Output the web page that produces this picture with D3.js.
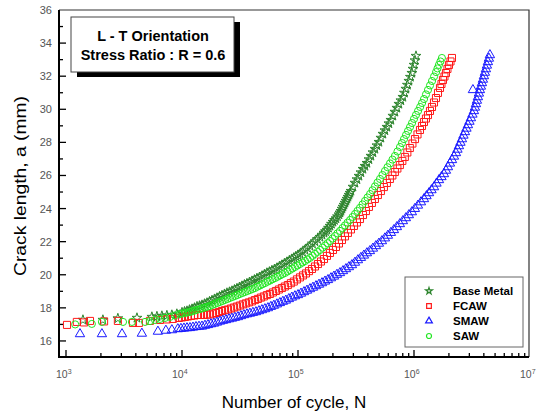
<!DOCTYPE html>
<html>
<head>
<meta charset="utf-8">
<script src="https://cdn.jsdelivr.net/npm/d3@7/dist/d3.min.js"></script>
<style>
  body { margin: 0; background: #fff; }
  svg { display: block; font-family: "Liberation Sans", Arial, sans-serif; }
</style>
</head>
<body>
<div id="chart"></div>
<script>
// Data: [number of cycles N, crack length a (mm)]
const baseMetal = [
  [1400,17.27],[2080,17.27],[2800,17.36],[4090,17.39],[5500,17.45],[6080,17.48],[6710,17.51],[7410,17.54],
  [8180,17.57],[9030,17.63],[10000,17.72],[10510,17.77],[11040,17.81],[11600,17.88],[12190,17.93],[12810,18.00],
  [13470,18.08],[14150,18.12],[14870,18.17],[15630,18.24],[16420,18.30],[17250,18.38],[18130,18.45],[19050,18.53],
  [20020,18.60],[21040,18.68],[22110,18.75],[23230,18.83],[24410,18.90],[25650,18.96],[26950,19.02],[28320,19.10],
  [29760,19.17],[31270,19.25],[32860,19.32],[34530,19.40],[36290,19.47],[38130,19.55],[40070,19.62],[42100,19.70],
  [44240,19.78],[46490,19.85],[48850,19.93],[51330,20.02],[53940,20.11],[56680,20.18],[59560,20.26],[62590,20.33],
  [65770,20.41],[69110,20.50],[72620,20.59],[76310,20.68],[80190,20.77],[84260,20.86],[88540,20.95],[92120,21.03],
  [95850,21.11],[99840,21.18],[104000,21.26],[109300,21.38],[114800,21.50],[120700,21.62],[126800,21.74],[133200,21.88],
  [140000,22.01],[147200,22.15],[154700,22.28],[161000,22.41],[167500,22.53],[172500,22.62],[177700,22.71],[183100,22.83],
  [188600,22.95],[194300,23.07],[200200,23.19],[206300,23.30],[212500,23.40],[218900,23.52],[225500,23.64],[230000,23.75],
  [234600,23.85],[239300,23.98],[244100,24.10],[249000,24.22],[254000,24.34],[259000,24.46],[264200,24.58],[269500,24.70],
  [274900,24.82],[280400,24.94],[286000,25.06],[297600,25.31],[309600,25.55],[322200,25.76],[335200,25.97],[348800,26.18],
  [362900,26.39],[377600,26.57],[392800,26.75],[408700,26.97],[425200,27.18],[442400,27.39],[460300,27.60],[478900,27.81],
  [498300,28.02],[518400,28.27],[539400,28.51],[561200,28.72],[583900,28.93],[607500,29.14],[632000,29.35],[657600,29.60],
  [684300,29.84],[711900,30.08],[740700,30.32],[770700,30.53],[801900,30.74],[826100,30.99],[851000,31.23],[876700,31.47],
  [903100,31.71],[930400,31.95],[958500,32.19],[979000,32.44],[1000000,32.68],[1020000,32.95],[1040000,33.22]
];

const fcaw = [
  [1020,16.97],[1240,17.15],[1430,17.12],[1610,17.21],[2130,17.18],[2800,17.21],[3780,17.09],[4250,17.09],
  [5290,17.21],[6450,17.27],[7410,17.30],[8340,17.33],[9400,17.39],[9990,17.42],[10610,17.45],[11260,17.48],
  [11950,17.51],[12810,17.54],[13730,17.57],[14570,17.57],[15470,17.57],[16420,17.59],[17420,17.60],[18490,17.65],
  [19620,17.69],[20830,17.75],[22110,17.81],[23460,17.86],[24900,17.90],[26420,17.96],[28040,18.02],[29750,18.08],
  [31570,18.14],[33510,18.21],[35570,18.27],[37750,18.33],[40070,18.39],[42530,18.47],[45130,18.54],[47890,18.62],
  [50820,18.69],[53940,18.77],[57250,18.84],[60770,18.93],[64500,19.02],[68440,19.11],[72620,19.20],[77070,19.29],
  [81800,19.38],[86800,19.49],[92100,19.59],[97900,19.72],[104000,19.84],[110400,19.96],[117200,20.08],[124400,20.22],
  [132000,20.35],[140100,20.50],[148700,20.65],[157800,20.80],[167500,20.95],[177700,21.14],[188600,21.32],[200200,21.50],
  [212500,21.68],[225500,21.89],[239300,22.10],[254000,22.32],[269500,22.53],[286000,22.74],[303500,22.95],[322100,23.16],
  [341900,23.37],[362900,23.61],[385100,23.85],[408700,24.10],[433700,24.34],[460300,24.58],[488500,24.82],[518400,25.06],
  [550200,25.30],[583900,25.55],[619600,25.79],[651200,26.00],[684300,26.21],[719000,26.42],[755500,26.63],[793800,26.88],
  [834000,27.12],[876400,27.39],[921000,27.66],[969300,27.93],[1020000,28.20],[1072000,28.48],[1126000,28.75],[1172000,28.99],
  [1219000,29.23],[1268000,29.44],[1320000,29.65],[1373000,29.90],[1429000,30.14],[1487000,30.41],[1547000,30.68],[1610000,30.99],
  [1675000,31.29],[1725000,31.53],[1777000,31.77],[1831000,31.98],[1886000,32.19],[1943000,32.44],[2002000,32.68],[2063000,32.89],
  [2125000,33.10]
];

const smaw = [
  [1320,16.42],[2040,16.42],[3040,16.42],[4510,16.45],[6200,16.57],[7260,16.63],[8180,16.66],[9210,16.72],
  [9790,16.74],[10400,16.76],[11040,16.78],[11720,16.79],[12440,16.82],[13200,16.85],[14010,16.87],[14870,16.88],
  [15780,16.93],[16750,16.97],[17770,17.02],[18860,17.06],[20020,17.12],[21250,17.18],[22550,17.23],[23930,17.27],
  [25400,17.32],[26950,17.36],[28600,17.41],[30350,17.45],[32210,17.51],[34190,17.57],[36290,17.62],[38510,17.66],
  [40870,17.71],[43370,17.75],[46030,17.81],[48850,17.87],[51840,17.93],[55020,17.99],[58390,18.07],[61960,18.14],
  [65760,18.22],[69800,18.30],[74070,18.38],[78600,18.45],[83420,18.54],[88540,18.63],[94100,18.71],[100000,18.78],
  [106100,18.87],[112600,18.96],[119500,19.05],[126800,19.14],[134600,19.23],[142900,19.32],[151700,19.41],[161000,19.50],
  [170900,19.60],[181300,19.69],[192400,19.80],[204200,19.90],[216700,20.01],[230000,20.11],[244100,20.23],[259000,20.35],
  [274900,20.47],[291800,20.59],[309700,20.74],[328600,20.89],[348700,21.03],[370000,21.17],[392700,21.31],[416800,21.44],
  [442400,21.59],[469500,21.74],[498400,21.89],[529000,22.04],[561300,22.21],[595600,22.37],[632200,22.54],[671000,22.71],
  [712000,22.89],[755500,23.07],[801800,23.25],[851000,23.43],[903100,23.61],[958500,23.79],[1018000,23.99],[1082000,24.19],
  [1148000,24.39],[1219000,24.58],[1281000,24.76],[1347000,24.94],[1415000,25.12],[1487000,25.30],[1563000,25.52],[1642000,25.73],
  [1725000,25.91],[1813000,26.09],[1886000,26.30],[1962000,26.51],[2042000,26.73],[2125000,26.94],[2211000,27.15],[2300000,27.36],
  [2370000,27.57],[2441000,27.78],[2514000,27.99],[2590000,28.20],[2668000,28.42],[2749000,28.63],[2832000,28.84],[2918000,29.05],
  [3006000,29.26],[3096000,29.47],[3190000,29.69],[3286000,29.90],[3352000,30.11],[3419000,30.32],[3487000,30.53],[3557000,30.74],
  [3628000,30.96],[3700000,31.17],[3775000,31.38],[3851000,31.59],[3928000,31.80],[4007000,32.01],[4087000,32.22],[4168000,32.43],
  [4252000,32.65],[4337000,32.86],[4424000,33.07],[4513000,33.28],[3220000,31.17]
];

const saw = [
  [1200,17.00],[1670,17.03],[2040,17.15],[3100,17.15],[3700,17.15],[4800,17.15],[5300,17.20],[5850,17.27],
  [6460,17.33],[7130,17.39],[7880,17.45],[8700,17.54],[9600,17.63],[10090,17.66],[10600,17.69],[11140,17.72],
  [11700,17.75],[12290,17.80],[12900,17.84],[13580,17.89],[14300,17.93],[15030,17.98],[15800,18.02],[16580,18.07],
  [17400,18.11],[18280,18.18],[19200,18.24],[20220,18.30],[21300,18.36],[22370,18.42],[23500,18.48],[24670,18.54],
  [25900,18.60],[27260,18.66],[28700,18.72],[30120,18.78],[31600,18.84],[33210,18.90],[34900,18.96],[36700,19.02],
  [38600,19.08],[40550,19.14],[42600,19.20],[44750,19.28],[47000,19.35],[49440,19.43],[52000,19.50],[54630,19.58],
  [57400,19.65],[60330,19.73],[63400,19.80],[66620,19.88],[70000,19.96],[73560,20.04],[77300,20.11],[81200,20.20],
  [85300,20.29],[89640,20.38],[94200,20.47],[98980,20.56],[104000,20.65],[109400,20.74],[115000,20.83],[120900,20.93],
  [127000,21.02],[133400,21.14],[140000,21.26],[147300,21.38],[155000,21.50],[162800,21.64],[171000,21.77],[179800,21.91],
  [189000,22.04],[198300,22.19],[208000,22.34],[218700,22.50],[230000,22.65],[241700,22.82],[254000,22.98],[267200,23.15],
  [281000,23.31],[295100,23.49],[310000,23.67],[325600,23.86],[342000,24.04],[359600,24.25],[378000,24.46],[397500,24.67],
  [418000,24.88],[438900,25.11],[461000,25.34],[484400,25.57],[509000,25.79],[534800,26.03],[562000,26.27],[590800,26.50],
  [621000,26.73],[652200,26.96],[685000,27.18],[720100,27.45],[757000,27.72],[787900,27.96],[820000,28.20],[853600,28.45],
  [888000,28.69],[924300,28.93],[962000,29.17],[1000000,29.42],[1040000,29.66],[1084000,29.90],[1130000,30.14],[1174000,30.38],
  [1220000,30.62],[1269000,30.90],[1320000,31.17],[1374000,31.44],[1430000,31.71],[1489000,31.98],[1550000,32.25],[1594000,32.47],
  [1640000,32.68],[1689000,32.89],[1740000,33.10]
];

const seriesNames = ["Base Metal", "FCAW", "SMAW", "SAW"];
const seriesColors = ["#2e852e", "#ff1a1a", "#1a1aff", "#22e622"];
const yTickLabels = [16, 18, 20, 22, 24, 26, 28, 30, 32, 34, 36];
const xTickExponents = [3, 4, 5, 6, 7];
const annotation = ["L - T Orientation", "Stress Ratio : R = 0.6"];

// Plot frame
const width = 544, height = 415;
const frame = { left: 59, right: 529, top: 10, bottom: 357 };

const x = d3.scaleLog()
  .domain([1e3, 1e7])
  .range([66, 530]);

const y = d3.scaleLinear()
  .domain([15, 36])
  .range([357.5, 10]);

const svg = d3.select("#chart")
  .append("svg")
  .attr("width", width)
  .attr("height", height);

svg.append("rect")
  .attr("width", width)
  .attr("height", height)
  .attr("fill", "#fff");

// Symbols for each series
const symbols = [
  d3.symbol().type(d3.symbolStar).size(30),
  d3.symbol().type(d3.symbolSquare).size(50),
  d3.symbol().type(d3.symbolTriangle).size(38),
  d3.symbol().type(d3.symbolCircle).size(40)
];
const legendSymbols = [
  d3.symbol().type(d3.symbolStar).size(14),
  d3.symbol().type(d3.symbolSquare).size(22),
  d3.symbol().type(d3.symbolTriangle).size(20),
  d3.symbol().type(d3.symbolCircle).size(20)
];

const allSeries = [baseMetal, fcaw, smaw, saw];

allSeries.forEach((series, i) => {
  svg.append("g")
    .selectAll("path")
    .data(series)
    .join("path")
    .attr("transform", d => `translate(${x(d[0])},${y(d[1])})`)
    .attr("d", symbols[i])
    .attr("fill", "none")
    .attr("stroke", seriesColors[i])
    .attr("stroke-width", 1);
});

// Top and right border
svg.append("path")
  .attr("d", `M${frame.left},${frame.top}H${frame.right}V${frame.bottom}`)
  .attr("fill", "none")
  .attr("stroke", "#333")
  .attr("stroke-width", 1.2);

// Y ticks (inward), majors every 2, minors every 1
const yTicks = d3.range(16, 36, 1);
svg.append("g")
  .selectAll("line")
  .data(yTicks)
  .join("line")
  .attr("x1", frame.left)
  .attr("x2", d => frame.left + (d % 2 === 0 ? 7 : 4))
  .attr("y1", d => y(d))
  .attr("y2", d => y(d))
  .attr("stroke", "#000")
  .attr("stroke-width", 1.3);

svg.append("g")
  .selectAll("text")
  .data(yTickLabels)
  .join("text")
  .attr("x", 52)
  .attr("y", d => y(d))
  .attr("dy", "0.36em")
  .attr("text-anchor", "end")
  .attr("fill", "#555")
  .style("font-size", "11px")
  .text(d => d);

// X ticks (inward), decades and minor 2..9
const xTicks = x.ticks().filter(d => d < 1e7);
svg.append("g")
  .selectAll("line")
  .data(xTicks)
  .join("line")
  .attr("x1", d => x(d))
  .attr("x2", d => x(d))
  .attr("y1", frame.bottom)
  .attr("y2", d => {
    const isDecade = Math.abs(Math.log10(d) - Math.round(Math.log10(d))) < 1e-6;
    return frame.bottom - (isDecade ? 7 : 4);
  })
  .attr("stroke", "#000")
  .attr("stroke-width", 1.3);

const xLabels = svg.append("g")
  .selectAll("text")
  .data(xTickExponents)
  .join("text")
  .attr("x", d => x(Math.pow(10, d)) - 10)
  .attr("y", 378)
  .attr("fill", "#555")
  .style("font-size", "10.5px");
xLabels.append("tspan").text("10");
xLabels.append("tspan")
  .attr("dy", -4)
  .style("font-size", "7px")
  .text(d => d);

// Left and bottom axis lines
svg.append("path")
  .attr("d", `M${frame.left},${frame.top}V${frame.bottom}H${frame.right}`)
  .attr("fill", "none")
  .attr("stroke", "#000")
  .attr("stroke-width", 2);

// Axis titles
svg.append("text")
  .attr("x", 294)
  .attr("y", 408)
  .attr("text-anchor", "middle")
  .style("font-size", "17px")
  .text("Number of cycle, N");

svg.append("text")
  .attr("transform", "translate(26,186) rotate(-90)")
  .attr("text-anchor", "middle")
  .attr("textLength", 180)
  .attr("lengthAdjust", "spacingAndGlyphs")
  .style("font-size", "17px")
  .text("Crack length, a (mm)");

// Annotation box with shadow
svg.append("rect")
  .attr("x", 77).attr("y", 22)
  .attr("width", 163).attr("height", 55)
  .attr("fill", "#000");
svg.append("rect")
  .attr("x", 71).attr("y", 17)
  .attr("width", 163).attr("height", 55)
  .attr("fill", "#fff")
  .attr("stroke", "#444")
  .attr("stroke-width", 1);
svg.append("g")
  .selectAll("text")
  .data(annotation)
  .join("text")
  .attr("x", 153)
  .attr("y", (d, i) => 41 + i * 19)
  .attr("text-anchor", "middle")
  .style("font-size", "14.5px")
  .style("font-weight", "bold")
  .text(d => d);

// Legend
const legend = svg.append("g").attr("transform", "translate(405,277)");
legend.append("rect")
  .attr("width", 118)
  .attr("height", 70)
  .attr("fill", "#fff")
  .attr("stroke", "#666")
  .attr("stroke-width", 1);

const rows = legend.selectAll("g.row")
  .data(seriesNames)
  .join("g")
  .attr("class", "row")
  .attr("transform", (d, i) => `translate(0,${[14, 29, 44, 59][i]})`);

rows.append("path")
  .attr("transform", "translate(24,0)")
  .attr("d", (d, i) => legendSymbols[i]())
  .attr("fill", "none")
  .attr("stroke", (d, i) => seriesColors[i])
  .attr("stroke-width", 1.2);

rows.append("text")
  .attr("x", 48)
  .attr("dy", "0.36em")
  .style("font-size", "11.5px")
  .style("font-weight", "bold")
  .text(d => d);
</script>
</body>
</html>
